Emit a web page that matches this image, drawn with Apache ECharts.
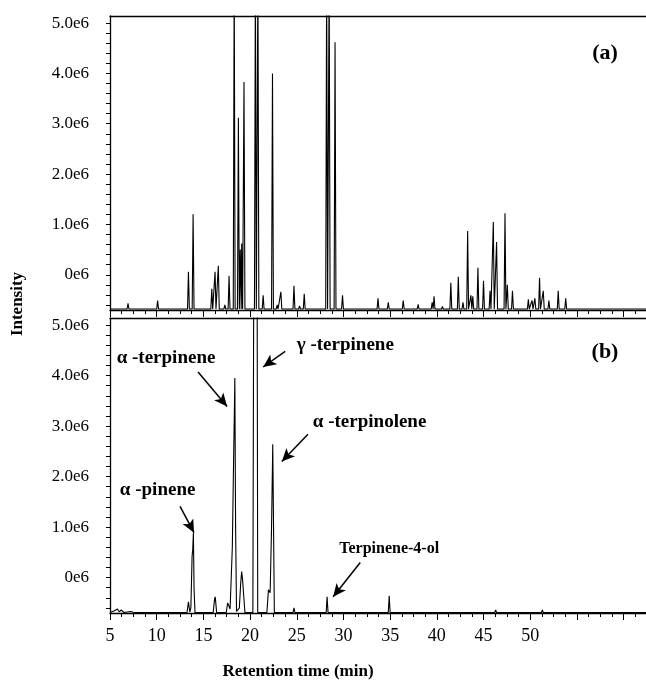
<!DOCTYPE html>
<html>
<head>
<meta charset="utf-8">
<script src="https://cdn.jsdelivr.net/npm/echarts@6/dist/echarts.min.js"></script>
<style>
  html, body { margin: 0; padding: 0; background: #fff; }
  #chart { width: 646px; height: 690px; }
</style>
</head>
<body>
<div id="chart"></div>
<script>
'use strict'
// intensities below are in units of 1e6 counts, times in minutes

var xMin = 5, xMax = 62.4;
var xLabelValues = [5, 10, 15, 20, 25, 30, 35, 40, 45, 50];
var yLabelValues = [0, 1, 2, 3, 4, 5];
var yLabelTexts = ['0e6', '1.0e6', '2.0e6', '3.0e6', '4.0e6', '5.0e6'];
var yTickValues = [-0.6, -0.4, -0.2, 0, 0.2, 0.4, 0.6, 0.8, 1, 1.2, 1.4, 1.6, 1.8, 2, 2.2, 2.4, 2.6,
    2.8, 3, 3.2, 3.4, 3.6, 3.8, 4, 4.2, 4.4, 4.6, 4.8, 5];

// (a) baseline level and peak apexes [time, intensity]
var baseA = -0.68;
var peaksA = [
    [6.93, -0.57], [10.1, -0.51], [13.4, 0.06], [13.9, 1.2], [15.9, -0.28], [16.25, 0.06], [16.6, 0.18],
    [17.3, -0.6], [17.75, -0.02], [18.3, 6.0], [18.75, 3.12], [18.95, 0.5], [19.1, 0.62], [19.35, 3.83],
    [20.57, 6.0], [20.84, 6.0], [21.4, -0.41], [22.4, 4.0], [22.9, -0.6], [23.3, -0.34], [24.7, -0.22],
    [25.3, -0.62], [25.8, -0.38], [28.2, 6.0], [28.47, 6.0], [29.1, 4.62], [29.9, -0.41], [30.6, -0.65],
    [33.7, -0.47], [34.8, -0.55], [36.4, -0.51], [38.0, -0.59], [39.5, -0.55], [39.7, -0.43], [40.6, -0.63],
    [41.5, -0.16], [42.3, -0.04], [42.8, -0.55], [43.3, 0.87], [43.65, -0.41], [43.85, -0.43], [44.4, 0.14],
    [45.0, -0.12], [45.7, -0.32], [46.05, 1.05], [46.4, 0.65], [47.3, 1.22], [47.55, -0.2], [48.1, -0.32],
    [49.8, -0.49], [50.2, -0.51], [50.5, -0.47], [51.0, -0.06], [51.4, -0.32], [52.0, -0.51], [53.0, -0.32],
    [53.8, -0.47]
];

// (b) trace points [time, intensity]
var traceB = [
    [5.0, -0.69], [5.4, -0.66], [5.6, -0.69], [5.8, -0.62], [6.0, -0.68], [6.2, -0.64], [6.5, -0.69],
    [7.2, -0.67], [7.6, -0.69],
    [13.25, -0.69], [13.4, -0.48], [13.55, -0.68], [13.66, -0.6], [13.79, 0.42], [13.86, 0.55],
    [13.93, 0.89], [14.0, -0.2], [14.1, -0.69],
    [16.05, -0.69], [16.2, -0.42], [16.27, -0.38], [16.42, -0.69],
    [17.45, -0.69], [17.6, -0.5], [17.7, -0.48], [17.86, -0.62], [17.95, -0.6], [18.1, 0.6], [18.25, 2.5],
    [18.3, 3.07], [18.37, 3.95], [18.45, 1.0], [18.55, -0.67],
    [18.85, -0.6], [19.0, -0.1], [19.1, 0.12], [19.2, -0.05], [19.45, -0.69],
    [20.3, -0.69], [20.4, 6.5], [20.75, 6.5], [20.82, -0.69],
    [21.8, -0.69], [21.97, -0.24], [22.15, -0.3], [22.3, 1.0], [22.43, 2.64], [22.6, -0.69],
    [24.6, -0.69], [24.7, -0.6], [24.8, -0.69],
    [28.15, -0.69], [28.25, -0.38], [28.35, -0.69],
    [34.8, -0.69], [34.9, -0.36], [35.0, -0.69],
    [46.2, -0.69], [46.3, -0.64], [46.4, -0.69],
    [51.2, -0.69], [51.3, -0.64], [51.4, -0.69],
    [62.4, -0.69]
];

var compoundNames = ['α -terpinene', 'γ -terpinene', 'α -terpinolene', 'α -pinene', 'Terpinene-4-ol'];

var serif = '"Liberation Serif", "DejaVu Serif", serif';

// narrow spike for every listed apex
function spikes(peaks, base) {
    var pts = [[xMin, base]];
    peaks.forEach(function (p) {
        pts.push([p[0] - 0.1, base], p, [p[0] + 0.1, base]);
    });
    pts.push([xMax, base]);
    return pts;
}

function xAxisOf(grid, withLabels) {
    return {
        type: 'value', gridIndex: grid, min: xMin, max: xMax, interval: 5,
        axisLine: {onZero: false, lineStyle: {color: '#000', width: 1.3}},
        axisTick: {length: 7, lineStyle: {color: '#000'}},
        minorTick: {show: true, splitNumber: 4, length: 4, lineStyle: {color: '#000'}},
        splitLine: {show: false},
        axisLabel: withLabels ? {
            customValues: xLabelValues, color: '#000', fontFamily: serif, fontSize: 18, margin: 14
        } : {show: false}
    };
}

function topBorderOf(grid) {
    return {
        type: 'value', gridIndex: grid, position: 'top', min: xMin, max: xMax,
        axisLine: {show: true, onZero: false, lineStyle: {color: '#000', width: 1.3}},
        axisTick: {show: false}, axisLabel: {show: false}, splitLine: {show: false}
    };
}

function yAxisOf(grid) {
    return {
        type: 'value', gridIndex: grid, min: -0.70, max: 5.14,
        axisLine: {show: true, onZero: false, lineStyle: {color: '#000', width: 1.3}},
        axisTick: {show: true, customValues: yTickValues, length: 4, lineStyle: {color: '#000'}},
        splitLine: {show: false},
        axisLabel: {
            customValues: yLabelValues, color: '#000', fontFamily: serif, fontSize: 17, margin: 21,
            formatter: function (v) {
                return yLabelTexts[yLabelValues.indexOf(Math.round(v))];
            }
        }
    };
}

var noteFont = {fontFamily: serif, fontWeight: 'bold', fontSize: 19, color: '#000'};

var myChart = echarts.init(document.getElementById('chart'));

var option = {
    animation: false,
    backgroundColor: '#fff',
    grid: [
        {left: 110, top: 16, right: 0, height: 294},
        {left: 110, top: 318, right: 0, height: 295}
    ],
    xAxis: [xAxisOf(0, false), xAxisOf(1, true), topBorderOf(0), topBorderOf(1)],
    yAxis: [yAxisOf(0), yAxisOf(1)],
    series: [
        {
            name: 'a', type: 'line', xAxisIndex: 0, yAxisIndex: 0,
            data: spikes(peaksA, baseA),
            symbol: 'none', lineStyle: {color: '#000', width: 1.1}
        },
        {
            name: 'b', type: 'line', xAxisIndex: 1, yAxisIndex: 1,
            data: traceB,
            symbol: 'none', lineStyle: {color: '#000', width: 1.1},
            markPoint: {
                silent: true, symbol: 'circle', symbolSize: 1,
                itemStyle: {color: 'rgba(0,0,0,0)'},
                label: Object.assign({show: true, position: 'inside', formatter: '{b}'}, noteFont),
                data: [
                    {name: compoundNames[0], coord: [11.0, 4.35]},
                    {name: compoundNames[1], coord: [30.2, 4.60]},
                    {name: compoundNames[2], coord: [32.8, 3.08]},
                    {name: compoundNames[3], coord: [10.1, 1.73]},
                    {name: compoundNames[4], coord: [34.9, 0.56], label: {fontSize: 16}}
                ]
            },
            markLine: {
                silent: true, symbol: ['none', 'arrow'], symbolSize: [9, 13],
                lineStyle: {color: '#000', width: 1.5, type: 'solid'},
                label: {show: false},
                data: [
                    [{coord: [14.43, 4.07]}, {coord: [17.54, 3.39]}],
                    [{coord: [23.76, 4.48]}, {coord: [21.4, 4.17]}],
                    [{coord: [26.2, 2.84]}, {coord: [23.4, 2.30]}],
                    [{coord: [12.5, 1.41]}, {coord: [14.0, 0.89]}],
                    [{coord: [31.8, 0.30]}, {coord: [28.9, -0.38]}]
                ]
            }
        }
    ],
    graphic: [
        {type: 'text', style: {x: 605, y: 53, text: '(a)', font: 'bold 22px ' + serif, textAlign: 'center', textVerticalAlign: 'middle', fill: '#000'}},
        {type: 'text', style: {x: 605, y: 352, text: '(b)', font: 'bold 22px ' + serif, textAlign: 'center', textVerticalAlign: 'middle', fill: '#000'}},
        {type: 'text', x: 18, y: 304, rotation: Math.PI / 2,
            style: {x: 0, y: 0, text: 'Intensity', font: 'bold 17px ' + serif, textAlign: 'center', textVerticalAlign: 'middle', fill: '#000'}},
        {type: 'text', style: {x: 298, y: 672, text: 'Retention time (min)', font: 'bold 17px ' + serif, textAlign: 'center', textVerticalAlign: 'middle', fill: '#000'}}
    ]
};

myChart.setOption(option);
</script>
</body>
</html>
